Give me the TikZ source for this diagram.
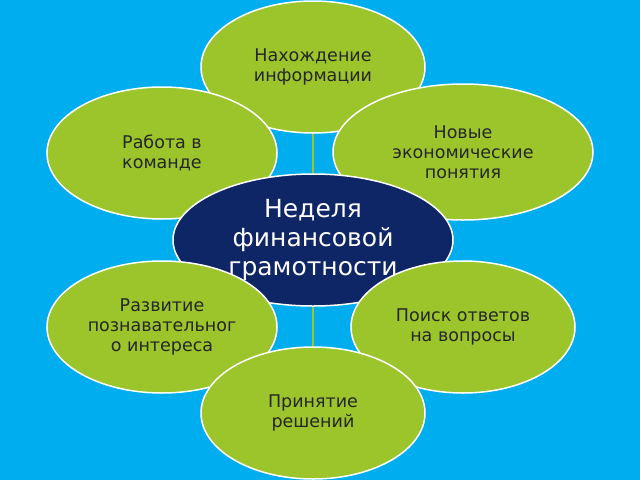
\documentclass[tikz,border=0pt]{standalone}
\usepackage{fontspec}
\setmainfont{DejaVu Sans}
\usetikzlibrary{shapes.geometric}
\definecolor{bg}{HTML}{00AEEF}
\definecolor{grn}{HTML}{9BC52A}
\definecolor{navy}{HTML}{0E2566}
\begin{document}
\begin{tikzpicture}[x=1pt,y=-1pt,
  el/.style={ellipse,draw=white,line width=1.5pt,fill=grn,inner sep=0pt,align=center,font=\fontsize{17.5}{20}\selectfont,text=black!85}]
\fill[bg] (0,0) rectangle (640,480);
\useasboundingbox (0,0) rectangle (640,480);
\node[el,minimum width=224,minimum height=132] (t) at (313,67) {Нахождение\\информации};
\coordinate (bt) at (313,347);
\draw[grn,line width=1.5pt] (t.south) -- (bt);
\node[el,minimum width=230,minimum height=132] (ul) at (162,153) {Работа в\\команде};
\node[el,minimum width=260,minimum height=136] (ur) at (463,152) {Новые\\экономические\\понятия};
\node[ellipse,draw=white,line width=1.5pt,fill=navy,text=white,align=center,minimum width=280,minimum height=132,inner sep=0pt,font=\fontsize{25}{29}\selectfont] (c) at (313,240) {Неделя\\финансовой\\грамотности};
\node[el,minimum width=230,minimum height=132] (ll) at (162,327) {Развитие\\познавательног\\о интереса};
\node[el,minimum width=224,minimum height=132] (lr) at (463,327) {Поиск ответов\\на вопросы};
\node[el,minimum width=224,minimum height=132] (b) at (313,413) {Принятие\\решений};
\end{tikzpicture}
\end{document}
